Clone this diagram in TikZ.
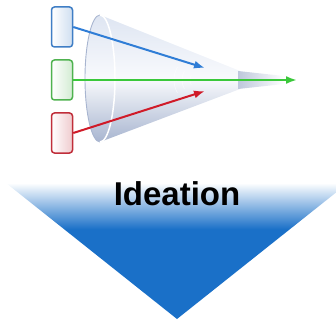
\documentclass[tikz,border=0pt]{standalone}
\usepackage{fontspec}
\setmainfont{Liberation Sans}
\usetikzlibrary{arrows.meta}

\definecolor{triBlue}{RGB}{26,112,200}
\definecolor{flowBlue}{RGB}{47,125,214}
\definecolor{flowGreen}{RGB}{58,200,58}
\definecolor{flowRed}{RGB}{208,26,40}
\definecolor{coneLight}{RGB}{222,229,242}
\definecolor{coneDark}{RGB}{168,181,208}

% funnel-bottom shading: pale top edge running into solid blue
\pgfdeclareverticalshading{funnelshade}{100bp}{color(0bp)=(triBlue); color(58bp)=(triBlue); color(75bp)=(white); color(100bp)=(white)}

\begin{document}
\begin{tikzpicture}[x=1pt,y=-1pt,
  portbox/.style={draw=#1, line width=1.5pt, rounded corners=3pt,
    minimum width=21pt, minimum height=40pt, inner sep=0pt,
    left color=white, right color=#1!25},
  flow/.style={line width=2pt, -{Latex[length=11pt,width=8pt]}},
]
\useasboundingbox (0,0) rectangle (336,320);

% triangular funnel below
\path[shading=funnelshade] (6,183) -- (348,183) -- (177,319) -- cycle;
\node[font=\bfseries\fontsize{33}{33}\selectfont] (title) at (177,194) {Ideation};

% cone body
\path[top color=coneLight, bottom color=coneDark, middle color=white!80!coneLight]
  (100,15) -- (240,71) -- (240,89) -- (100,142) arc (270:90:15pt and 63.5pt) -- cycle;
% narrow spout fading out
\path[left color=coneDark!75!white, right color=white] (238,71) -- (284,76) -- (284,84) -- (238,89) -- cycle;
% rim of the opening
\draw[coneDark, line width=0.9pt] (100,142) arc (270:90:15pt and 63.5pt);
\draw[white, line width=1.5pt] (100,15) arc (90:-90:15pt and 63.5pt);
% faint ripples inside the cone
\foreach \r in {10,18,26}
  \draw[white, opacity=0.6, line width=0.6pt] (200,80) ++(150:\r pt) arc (150:210:\r pt);

% input boxes
\node[portbox=flowBlue!80!gray] (blueBox) at (62,27) {};
\node[portbox=flowGreen!70!gray] (greenBox) at (62,80) {};
\node[portbox=flowRed!80!gray] (redBox) at (62,133) {};

\coordinate (blueEnd) at (205,68);
\coordinate (greenEnd) at (297,80);
\coordinate (redEnd) at (205,91);

\draw[flow, flowBlue] (blueBox.east) -- (blueEnd);
\draw[flow, flowGreen] (greenBox.east) -- (greenEnd);
\draw[flow, flowRed] (redBox.east) -- (redEnd);
\end{tikzpicture}
\end{document}
